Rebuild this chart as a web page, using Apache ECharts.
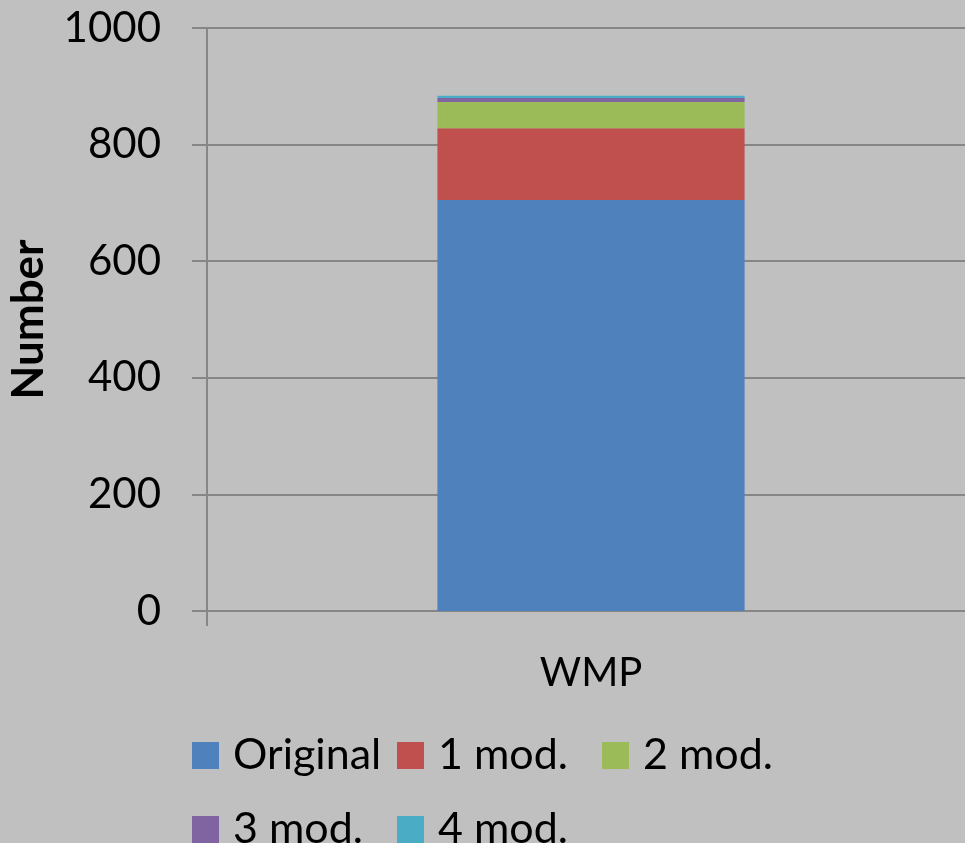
<!DOCTYPE html>
<html><head><meta charset="utf-8">
<script src="https://cdn.jsdelivr.net/npm/echarts@6/dist/echarts.min.js"></script>
<style>html,body{margin:0;padding:0;background:#c0c0c0;}#c{width:965px;height:843px;}</style>
</head><body><div id="c"></div>
<script>
const categories = ['WMP'];
const seriesNames = ['Original', '1 mod.', '2 mod.', '3 mod.', '4 mod.'];
const original = [705];
const mod1 = [123];
const mod2 = [45];
const mod3 = [7];
const mod4 = [4];
const yTicks = [0, 200, 400, 600, 800, 1000];

const values = [original, mod1, mod2, mod3, mod4];
const colors = ['#4F81BD', '#C0504D', '#9BBB59', '#8064A2', '#4BACC6'];
const font = 'Lato, "Open Sans", sans-serif';

const legendPos = [[192, 734], [397, 734], [602, 734], [192, 808], [397, 808]];
const legends = seriesNames.map((n, i) => ({
  data: [n], left: legendPos[i][0], top: legendPos[i][1], padding: 0,
  itemWidth: 27, itemHeight: 27, icon: 'rect',
  textStyle: { fontFamily: font, fontSize: 43, color: '#000', lineHeight: 27, padding: [0, 0, 0, 9] }
}));

const chart = echarts.init(document.getElementById('c'));
chart.setOption({
  backgroundColor: '#c0c0c0',
  animation: false,
  grid: { left: 207, top: 28, bottom: 232, right: -10, containLabel: false, outerBoundsMode: 'none' },
  legend: legends,
  xAxis: {
    type: 'category', data: categories,
    axisLine: { lineStyle: { color: '#868686', width: 2 } },
    axisTick: { show: true, length: 15, alignWithLabel: false, lineStyle: { color: '#868686', width: 2 } },
    axisLabel: { fontFamily: font, fontSize: 40, color: '#000', margin: 42, lineHeight: 40 }
  },
  yAxis: {
    type: 'value', min: yTicks[0], max: yTicks[yTicks.length - 1], interval: yTicks[1] - yTicks[0],
    name: 'Number', nameLocation: 'middle', nameGap: 156,
    nameTextStyle: { fontFamily: font, fontSize: 44, fontWeight: 'bold', color: '#000' },
    axisLine: { show: true, lineStyle: { color: '#868686', width: 2 } },
    axisTick: { show: true, length: 15, lineStyle: { color: '#868686', width: 2 } },
    splitLine: { lineStyle: { color: '#868686', width: 2 } },
    axisLabel: { fontFamily: font, fontSize: 42, color: '#000', margin: 46, formatter: v => String(v) }
  },
  series: seriesNames.map((n, i) => ({
    name: n, type: 'bar', stack: 'total', data: values[i],
    barWidth: '40%', itemStyle: { color: colors[i] }
  }))
});
</script></body></html>
